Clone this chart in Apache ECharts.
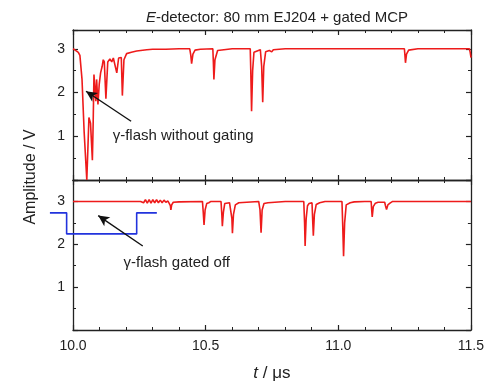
<!DOCTYPE html>
<html>
<head>
<meta charset="utf-8">
<script src="https://cdn.jsdelivr.net/npm/echarts@6/dist/echarts.min.js"></script>
<style>
html,body{margin:0;padding:0;background:#fff;}
#c{width:487px;height:383px;}
</style>
</head>
<body>
<div id="c"></div>
<script>
// ---- Data ----
// Top panel: gamma flash without gating (time in μs, amplitude in V)
const topT = [10.000,10.008,10.020,10.026,10.034,10.042,10.052,10.056,10.060,10.066,10.073,10.076,10.079,10.086,10.089,10.094,10.099,10.104,10.110,10.114,10.118,10.124,10.131,10.139,10.146,10.152,10.158,10.165,10.172,10.177,10.182,10.186,10.192,10.202,10.220,10.240,10.278,10.300,10.350,10.400,10.440,10.444,10.447,10.452,10.460,10.480,10.527,10.529,10.531,10.535,10.545,10.600,10.668,10.670,10.673,10.677,10.682,10.706,10.711,10.715,10.719,10.726,10.740,10.749,10.755,10.800,10.900,11.000,11.100,11.200,11.249,11.251,11.253,11.257,11.265,11.300,11.400,11.494,11.497,11.500];
const topV = [3.00,2.97,2.92,2.85,2.30,1.10,0.00,0.70,1.43,1.30,0.45,1.30,2.41,1.80,2.30,1.73,2.20,2.45,2.60,2.75,2.70,1.86,2.70,2.77,2.70,2.79,2.80,2.45,2.79,2.82,2.80,1.93,2.75,2.89,2.92,2.95,2.98,2.99,2.99,3.00,3.00,2.85,2.66,2.88,2.97,2.99,3.00,2.70,2.30,2.75,2.96,3.00,3.00,2.50,1.57,2.50,2.92,2.98,2.60,1.78,2.60,2.93,2.96,2.93,2.98,3.00,3.00,3.00,3.00,3.00,3.00,2.85,2.68,2.88,2.97,3.00,3.00,3.00,2.92,2.80];

// Bottom panel: gamma flash gated off
const botT = [10.000,10.255,10.259,10.266,10.273,10.280,10.287,10.294,10.301,10.308,10.315,10.322,10.329,10.336,10.343,10.350,10.358,10.364,10.367,10.369,10.372,10.378,10.400,10.488,10.491,10.494,10.498,10.504,10.512,10.520,10.558,10.561,10.563,10.567,10.572,10.590,10.596,10.599,10.601,10.605,10.612,10.625,10.700,10.705,10.709,10.713,10.720,10.735,10.800,10.870,10.873,10.875,10.879,10.884,10.890,10.901,10.904,10.906,10.910,10.917,10.930,10.950,11.014,11.017,11.020,11.024,11.030,11.045,11.060,11.100,11.124,11.126,11.128,11.132,11.140,11.150,11.175,11.178,11.182,11.187,11.195,11.205,11.300,11.400,11.500];
const botV = [3.00,3.00,3.03,2.97,3.04,2.96,3.04,2.96,3.04,2.97,3.04,2.97,3.03,2.97,3.03,2.98,3.01,2.98,2.90,2.80,2.92,2.98,2.99,3.00,2.75,2.45,2.80,2.95,2.97,3.00,3.00,2.70,2.42,2.75,2.95,2.97,2.95,2.60,2.26,2.70,2.92,2.97,3.00,2.80,2.27,2.80,2.95,2.97,3.00,3.00,2.50,1.96,2.60,2.90,2.95,2.97,2.50,2.20,2.70,2.93,2.97,3.00,3.00,2.40,1.72,2.50,2.92,2.97,2.99,3.00,3.00,2.80,2.64,2.88,2.96,2.98,2.98,2.90,2.81,2.92,2.96,3.00,3.00,3.00,3.00];

// Gate signal (blue)
const gateT = [9.913,9.976,9.976,10.240,10.240,10.316];
const gateV = [2.75,2.75,2.27,2.27,2.75,2.75];

// Axis settings
const xMin = 10.0, xMax = 11.5, xStep = 0.5;
const yTopMax = 3.43, yBotMax = 3.5;

// Annotations: [tailT, tailV, headT, headV]
const arrowTop = [10.219, 1.343, 10.049, 2.03];
const arrowBot = [10.263, 1.96, 10.095, 2.67];
const labelTop = {text:'γ-flash without gating', t:10.415, v:1.00};
const labelBot = {text:'γ-flash gated off', t:10.391, v:1.565};

const titleText = '{i|E}-detector: 80 mm EJ204 + gated MCP';
const xName = '{i|t} / μs';
const yName = 'Amplitude / V';

// ---- Layout ----
const W = 487, GL = 73, GR = 16, GATE_LEFT = 49;
const pxPerUnit = (W - GL - GR) / (xMax - xMin);
const gateAxisMin = xMin - (GL - GATE_LEFT) / pxPerUnit;

// ---- Chart ----
const zip = (a,b) => a.map((x,i)=>[x,b[i]]);
const FONT = '"Liberation Sans", Arial, sans-serif';
const INK = '#222';

function xAx(grid, pos, labels) {
  return {
    type:'value', gridIndex:grid, position:pos, min:xMin, max:xMax, interval:xStep,
    axisLine:{show:true, onZero:false, lineStyle:{color:INK, width:1.3}},
    axisTick:{show:true, inside:true, length:5, lineStyle:{color:INK, width:1.2}},
    minorTick:{show:true, splitNumber:5, length:3, lineStyle:{color:INK, width:1}},
    splitLine:{show:false},
    axisLabel:{show:labels, margin:9, fontFamily:FONT, fontSize:14, color:INK,
      formatter:v=>v.toFixed(1)}
  };
}
function yAx(grid, pos, max, labels) {
  return {
    type:'value', gridIndex:grid, position:pos, min:0, max:max, interval:1,
    axisLine:{show:true, onZero:false, lineStyle:{color:INK, width:1.3}},
    axisTick:{show:true, inside:true, length:5, lineStyle:{color:INK, width:1.2}},
    minorTick:{show:true, splitNumber:2, length:3, lineStyle:{color:INK, width:1}},
    splitLine:{show:false},
    axisLabel:{show:labels, margin:8, fontFamily:FONT, fontSize:14, color:INK,
      formatter:v=>(v>0 && Math.abs(v-Math.round(v))<1e-6) ? String(Math.round(v)) : ''}
  };
}

function arrowLine(a) {
  return {
    silent:true, symbol:['none','arrow'], symbolSize:[10,10],
    lineStyle:{color:'#111', width:1.4, type:'solid'},
    itemStyle:{color:'#111'},
    label:{show:false},
    data:[[{coord:[a[0],a[1]], symbol:'none'},
           {coord:[a[2],a[3]], symbol:'arrow', symbolSize:[8,11]}]]
  };
}
function textPoint(l) {
  return {
    silent:true, symbol:'circle', symbolSize:0,
    label:{show:true, position:'inside', formatter:l.text, fontFamily:FONT, fontSize:15, color:INK},
    data:[{coord:[l.t,l.v]}]
  };
}

const chart = echarts.init(document.getElementById('c'), null, {renderer:'canvas'});
chart.setOption({
  animation:false,
  backgroundColor:'#fff',
  title:{
    text:titleText, left:272, top:5, textAlign:'center',
    textStyle:{fontFamily:FONT, fontSize:15, fontWeight:'normal', color:INK,
      rich:{i:{fontStyle:'italic', fontFamily:FONT, fontSize:15, color:INK}}}
  },
  grid:[
    {left:GL, right:GR, top:30, height:150},
    {left:GL, right:GR, top:180, height:153.4},
    {left:GATE_LEFT, right:GR, top:180, height:153.4}
  ],
  xAxis:[
    xAx(0,'bottom',false), xAx(0,'top',false),
    Object.assign(xAx(1,'bottom',true), {
      name:xName, nameLocation:'middle', nameGap:35,
      nameTextStyle:{fontFamily:FONT, fontSize:17, color:INK,
        rich:{i:{fontStyle:'italic', fontFamily:FONT, fontSize:17, color:INK}}}
    }),
    xAx(1,'top',false),
    {type:'value', gridIndex:2, min:gateAxisMin, max:xMax, show:false}
  ],
  yAxis:[
    yAx(0,'left',yTopMax,true), yAx(0,'right',yTopMax,false),
    yAx(1,'left',yBotMax,true), yAx(1,'right',yBotMax,false),
    {type:'value', gridIndex:2, min:0, max:yBotMax, show:false}
  ],
  graphic:[{
    type:'text', x:31, y:177, rotation:Math.PI/2,
    style:{text:yName, font:'16px '+FONT, fill:INK, textAlign:'center', textVerticalAlign:'middle'}
  }],
  series:[
    {type:'line', xAxisIndex:4, yAxisIndex:4, data:zip(gateT,gateV), showSymbol:false, z:1,
     lineStyle:{color:'#2233dd', width:1.6}, itemStyle:{color:'#2233dd'}},
    {type:'line', xAxisIndex:0, yAxisIndex:0, data:zip(topT,topV), showSymbol:false,
     lineStyle:{color:'#ee1b1b', width:1.6}, itemStyle:{color:'#ee1b1b'},
     markLine:arrowLine(arrowTop), markPoint:textPoint(labelTop)},
    {type:'line', xAxisIndex:2, yAxisIndex:2, data:zip(botT,botV), showSymbol:false,
     lineStyle:{color:'#ee1b1b', width:1.6}, itemStyle:{color:'#ee1b1b'},
     markLine:arrowLine(arrowBot), markPoint:textPoint(labelBot)}
  ]
});
</script>
</body>
</html>
